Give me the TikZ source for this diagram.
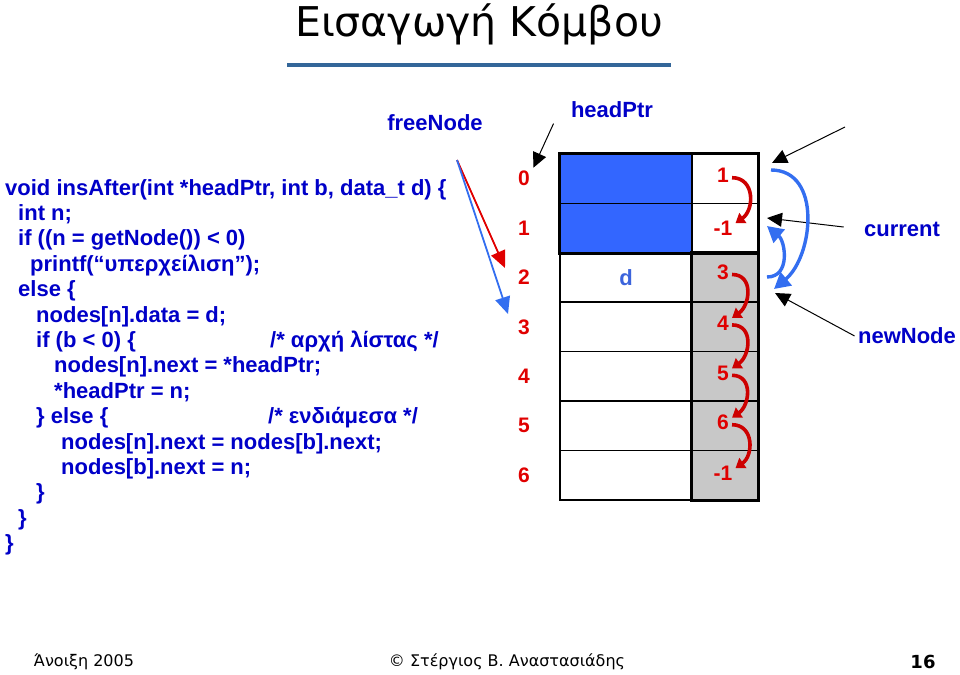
\documentclass[tikz,border=0pt]{standalone}
\usepackage{fontspec}
\setmainfont{Liberation Sans}
\newfontfamily\slidefont{DejaVu Sans}
\usetikzlibrary{positioning, arrows.meta, calc}

\definecolor{codeblue}{RGB}{0,0,200}
\definecolor{idxred}{RGB}{224,0,0}
\definecolor{arrowred}{RGB}{205,0,0}
\definecolor{cellblue}{RGB}{51,102,255}
\definecolor{cellgray}{RGB}{200,200,200}
\definecolor{arcblue}{RGB}{51,110,240}
\definecolor{dblue}{RGB}{60,100,220}
\definecolor{rulecol}{RGB}{51,102,153}

\begin{document}
\begin{tikzpicture}[x=1pt, y=-1pt]
		% Estilos para el código, la tabla y las flechas
		\tikzset{
			code/.style={
					anchor=base west, inner sep=0pt,
					font=\bfseries\fontsize{22}{26}\selectfont, text=codeblue
				},
			label/.style={
					font=\bfseries\fontsize{22}{26}\selectfont, text=codeblue
				},
			idx/.style={
					font=\bfseries\fontsize{21}{25}\selectfont, text=idxred
				},
			cell/.style={
					rectangle, draw, line width=1.6pt,
					minimum height=49.4pt, inner sep=0pt
				},
			nextarrow/.style={
					draw=arrowred, line width=3.6pt,
					-{Triangle[width=12pt, length=9pt]}
				},
			arcarrow/.style={
					draw=arcblue, line width=3.4pt,
					-{Triangle[width=17pt, length=16pt]}
				},
			ptr/.style={
					draw, line width=1pt, -{Triangle[width=14pt, length=15pt]}
				}
		}
		\useasboundingbox (0,0) rectangle (960,674);

		% Título
		\node[font=\slidefont\fontsize{41}{48}\selectfont] (title) at (479,24) {Εισαγωγή Κόμβου};
		\draw[rulecol, line width=4pt] (287,65) -- (671,65);

		% Código
		\node[code] (c1) at (5,195) {void insAfter(int *headPtr, int b, data\_t d) \{};
		\node[code] (c2) at (18,220.4) {int n;};
		\node[code] (c3) at (18,245.8) {if ((n = getNode()) < 0)};
		\node[code] (c4) at (30,271.2) {printf(“υπερχείλιση”);};
		\node[code] (c5) at (18,296.6) {else \{};
		\node[code] (c6) at (36,322) {nodes[n].data = d;};
		\node[code] (c7) at (36,347.4) {if (b < 0) \{};
		\node[code] (c7c) at (270,347.4) {/* αρχή λίστας */};
		\node[code] (c8) at (54,372.8) {nodes[n].next = *headPtr;};
		\node[code] (c9) at (54,398.2) {*headPtr = n;};
		\node[code] (c10) at (36,423.6) {\} else \{};
		\node[code] (c10c) at (268,423.6) {/* ενδιάμεσα */};
		\node[code] (c11) at (61,449) {nodes[n].next = nodes[b].next;};
		\node[code] (c12) at (61,474.4) {nodes[b].next = n;};
		\node[code] (c13) at (36,499.8) {\}};
		\node[code] (c14) at (18,525.2) {\}};
		\node[code] (c15) at (5,550.6) {\}};

		% Tabla de nodos
		\foreach \i/\lf/\rf in {0/cellblue/white, 1/cellblue/white, 2/white/cellgray,
				3/white/cellgray, 4/white/cellgray, 5/white/cellgray, 6/white/cellgray} {
				\node[cell, fill=\lf, minimum width=132pt] (L\i) at (626, {178.7+49.4*\i}) {};
				\node[cell, fill=\rf, minimum width=66pt] (R\i) at (725, {178.7+49.4*\i}) {};
				\node[idx] (I\i) at (524, {178.7+49.4*\i}) {\i};
			}
		\draw[line width=2.6pt] (L0.north west) rectangle (R1.south east);
		\draw[line width=2.6pt] (R2.north west) rectangle (R6.south east);
		\node[label, text=dblue] (d) at (L2) {d};

		% Valores next
		\foreach \i/\v/\dy in {0/1/-3, 1/-1/0, 2/3/-5, 3/4/-4, 4/5/-3, 5/6/-3, 6/-1/-2} {
				\node[idx, inner sep=2pt] (V\i) at ($(R\i.center)+(-2,\dy)$) {\v};
			}
		\foreach \a/\b in {0/1, 2/3, 3/4, 4/5, 5/6} {
				\draw[nextarrow] ($(V\a.east)+(1,2)$) to[out=0, in=35, looseness=1.3] ($(V\b.east)+(1,-5)$);
			}

		% Punteros
		\node[label] (headPtr) at (612,110) {headPtr};
		\node[label] (freeNode) at (435,123) {freeNode};
		\node[label] (current) at (902,229) {current};
		\node[label] (newNode) at (907,336) {newNode};
		\coordinate (fn) at (457,160);
		\coordinate (fnRed) at (505,268);
		\coordinate (fnBlue) at (508,314);
		\coordinate (oldTail) at (845,127);
		\coordinate (oldTip) at (772,163);
		\coordinate (curTip) at (767,218);
		\coordinate (newTip) at (775,293);
		\coordinate (arcTop) at (771,170);
		\coordinate (arcBot) at (774,289);
		\coordinate (arcLow) at (767,277);
		\coordinate (arcMid) at (767,226);

		\draw[ptr] (headPtr.south west) ++(-14,2) -- (I0.north east);
		\draw[ptr] (oldTail) -- (oldTip);
		\draw[ptr, shorten <=17pt] (current.west) -- (curTip);
		\draw[ptr] (newNode.west) -- (newTip);
		\draw[idxred, line width=1.8pt, -{Triangle[width=15pt, length=17pt]}] (fn) -- (fnRed);
		\draw[arcblue, line width=1.8pt, -{Triangle[width=15pt, length=17pt]}] (fn) -- (fnBlue);
		\draw[arcarrow] (arcTop) to[out=0, in=40, looseness=1.1] (arcBot);
		\draw[arcarrow] (arcLow) to[out=0, in=-40, looseness=1.2] (arcMid);

		% Pie de página
		\node[font=\slidefont\fontsize{16}{19}\selectfont] (season) at (84,662) {Άνοιξη 2005};
		\node[font=\slidefont\fontsize{16}{19}\selectfont] (author) at (507,662) {© Στέργιος Β. Αναστασιάδης};
		\node[font=\slidefont\bfseries\fontsize{18}{21}\selectfont] (page) at (923,662) {16};
	\end{tikzpicture}
\end{document}
